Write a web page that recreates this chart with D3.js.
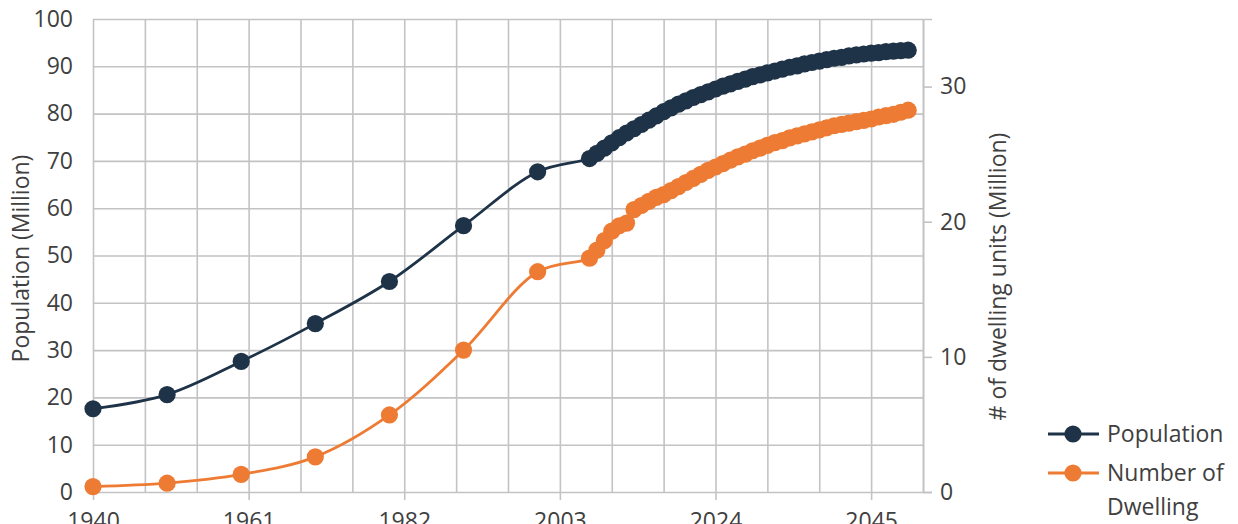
<!DOCTYPE html>
<html>
<head>
<meta charset="utf-8">
<script src="https://cdn.jsdelivr.net/npm/d3@7"></script>
<style>
  html, body { margin: 0; padding: 0; background: #ffffff; overflow: hidden; }
  svg { display: block; font-family: "Open Sans", "DejaVu Sans", sans-serif; }
</style>
</head>
<body>
<svg id="chart" width="1238" height="524"></svg>
<script>
// ---- data ----
const years = [1940, 1950, 1960, 1970, 1980, 1990, 2000,
  2007, 2008, 2009, 2010, 2011, 2012, 2013, 2014, 2015, 2016, 2017, 2018, 2019,
  2020, 2021, 2022, 2023, 2024, 2025, 2026, 2027, 2028, 2029, 2030, 2031, 2032,
  2033, 2034, 2035, 2036, 2037, 2038, 2039, 2040, 2041, 2042, 2043, 2044, 2045,
  2046, 2047, 2048, 2049, 2050];

const population = [17.6, 20.6, 27.6, 35.6, 44.5, 56.3, 67.7,
  70.5, 71.6, 72.7, 73.8, 74.9, 75.9, 76.8, 77.7, 78.6, 79.5, 80.4, 81.2, 82.0,
  82.7, 83.4, 84.0, 84.6, 85.2, 85.8, 86.3, 86.8, 87.3, 87.8, 88.2, 88.6, 89.0,
  89.4, 89.8, 90.1, 90.5, 90.8, 91.1, 91.4, 91.7, 91.9, 92.2, 92.4, 92.6, 92.8,
  92.9, 93.1, 93.2, 93.3, 93.4];

const dwellings = [0.4, 0.65, 1.3, 2.6, 5.7, 10.5, 16.3,
  17.3, 17.9, 18.6, 19.3, 19.7, 19.9, 20.9, 21.2, 21.5, 21.8, 22.0, 22.3, 22.6,
  22.9, 23.2, 23.5, 23.8, 24.05, 24.3, 24.55, 24.8, 25.0, 25.25, 25.45, 25.65, 25.85,
  26.0, 26.2, 26.35, 26.5, 26.65, 26.8, 26.95, 27.1, 27.2, 27.3, 27.4, 27.5, 27.6,
  27.75, 27.85, 27.95, 28.1, 28.25];

const xDomain = [1940, 2052];
const gridYears = [1940, 1947, 1954, 1961, 1968, 1975, 1982, 1989, 1996, 2003,
  2010, 2017, 2024, 2031, 2038, 2045, 2052];
const xTickLabels = [1940, 1961, 1982, 2003, 2024, 2045];
const leftTicks = [0, 10, 20, 30, 40, 50, 60, 70, 80, 90, 100];
const rightTicks = [0, 10, 20, 30];
const seriesNames = ["Population", "Number of Dwelling"];

// ---- layout ----
const svg = d3.select("#chart");
const L = 93, R = 923, T = 19, B = 492;
const colPop = "#1f3348";
const colDw = "#ee7b33";
const gridCol = "#c3c3c6";
const textCol = "#404040";
const fs = 23;

const x = d3.scaleLinear().domain(xDomain).range([L, R]);
const yL = d3.scaleLinear().domain([0, 100]).range([B, T]);
const yR = d3.scaleLinear().domain([0, 35]).range([B, T]);

// horizontal gridlines
svg.append("g")
  .attr("transform", `translate(${L},0)`)
  .call(d3.axisLeft(yL).tickValues(leftTicks).tickSize(-(R - L)).tickFormat(""))
  .call(g => g.select(".domain").remove())
  .call(g => g.selectAll("line").attr("stroke", gridCol).attr("stroke-width", 1.6));

// vertical gridlines
svg.append("g")
  .attr("transform", `translate(0,${T})`)
  .call(d3.axisBottom(x).tickValues(gridYears).tickSize(B - T).tickFormat(""))
  .call(g => g.select(".domain").remove())
  .call(g => g.selectAll("line").attr("stroke", gridCol).attr("stroke-width", 1.6));

// x axis tick marks + labels
svg.append("g")
  .attr("transform", `translate(0,${B})`)
  .call(d3.axisBottom(x).tickValues(xTickLabels).tickSize(8).tickPadding(13).tickFormat(d3.format("d")))
  .call(g => g.select(".domain").remove())
  .call(g => g.selectAll("line").attr("stroke", gridCol).attr("stroke-width", 1.6))
  .call(g => g.selectAll("text").attr("fill", textCol).attr("font-size", fs)
    .attr("font-family", "Open Sans, sans-serif").attr("dy", "0.71em"));

// left axis labels
svg.append("g")
  .attr("transform", `translate(${L},0)`)
  .call(d3.axisLeft(yL).tickValues(leftTicks).tickSize(0).tickPadding(20))
  .call(g => g.select(".domain").remove())
  .call(g => g.selectAll("text").attr("fill", textCol).attr("font-size", fs)
    .attr("font-family", "Open Sans, sans-serif"));

// right axis
svg.append("g")
  .attr("transform", `translate(${R},0)`)
  .call(d3.axisRight(yR).tickValues(rightTicks).tickSize(9).tickPadding(8))
  .call(g => g.select(".domain").attr("stroke", gridCol).attr("stroke-width", 1.6))
  .call(g => g.selectAll("line").attr("stroke", gridCol).attr("stroke-width", 1.6))
  .call(g => g.selectAll("text").attr("fill", textCol).attr("font-size", fs)
    .attr("font-family", "Open Sans, sans-serif"));

// axis titles
svg.append("text")
  .attr("transform", `translate(29,${(T + B) / 2 + 3}) rotate(-90)`)
  .attr("text-anchor", "middle")
  .attr("fill", textCol).attr("font-size", fs)
  .text("Population (Million)");

svg.append("text")
  .attr("transform", `translate(1006,${(T + B) / 2 + 21}) rotate(-90)`)
  .attr("text-anchor", "middle")
  .attr("fill", textCol).attr("font-size", fs)
  .text("# of dwelling units (Million)");

// series
const rows = years.map((yr, i) => ({ yr, pop: population[i], dw: dwellings[i] }));
const curve = d3.curveCatmullRom.alpha(0.5);

function drawSeries(key, yScale, color) {
  const line = d3.line().x(d => x(d.yr)).y(d => yScale(d[key])).curve(curve);
  svg.append("path").datum(rows)
    .attr("fill", "none").attr("stroke", color).attr("stroke-width", 2.8)
    .attr("d", line);
  svg.append("g").selectAll("circle").data(rows).join("circle")
    .attr("cx", d => x(d.yr)).attr("cy", d => yScale(d[key]))
    .attr("r", 8.6).attr("fill", color);
}
drawSeries("pop", yL, colPop);
drawSeries("dw", yR, colDw);

// legend
const legend = svg.append("g");
const legItems = [
  { color: colPop, y: 434, lines: [seriesNames[0]] },
  { color: colDw, y: 473, lines: ["Number of", "Dwelling"] }
];
legItems.forEach(it => {
  legend.append("line").attr("x1", 1048).attr("x2", 1099).attr("y1", it.y).attr("y2", it.y)
    .attr("stroke", it.color).attr("stroke-width", 3);
  legend.append("circle").attr("cx", 1073).attr("cy", it.y).attr("r", 8.6).attr("fill", it.color);
  const t = legend.append("text").attr("x", 1107).attr("y", it.y)
    .attr("fill", textCol).attr("font-size", fs);
  it.lines.forEach((s, i) => t.append("tspan").attr("x", 1107).attr("dy", i === 0 ? "0.35em" : "1.48em").text(s));
});
</script>
</body>
</html>
